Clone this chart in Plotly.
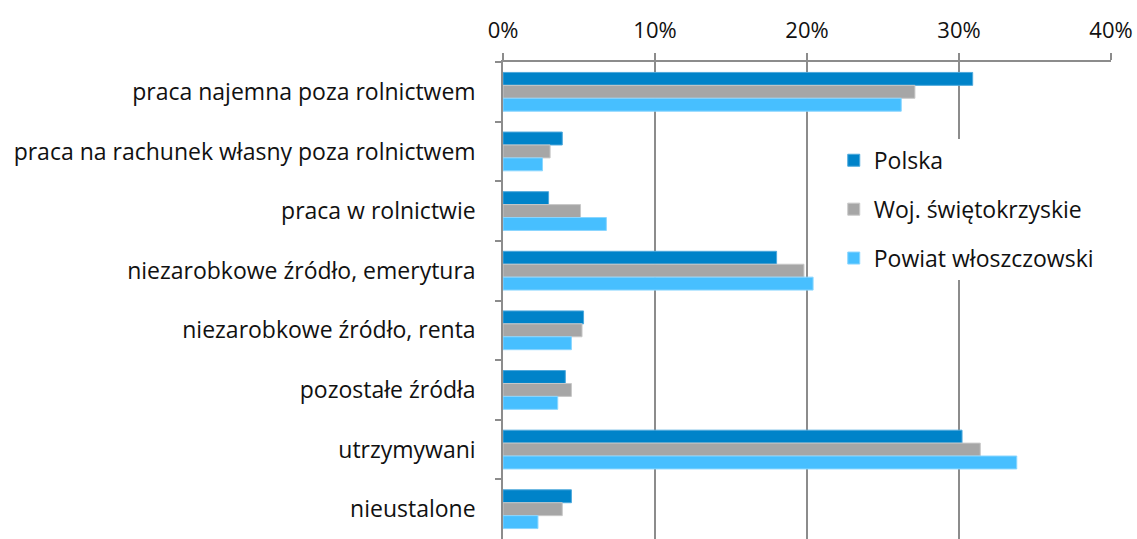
import plotly.graph_objects as go

categories = [
    "praca najemna poza rolnictwem",
    "praca na rachunek własny poza rolnictwem",
    "praca w rolnictwie",
    "niezarobkowe źródło, emerytura",
    "niezarobkowe źródło, renta",
    "pozostałe źródła",
    "utrzymywani",
    "nieustalone",
]
polska = [30.9, 3.9, 3.0, 18.0, 5.3, 4.1, 30.2, 4.5]
woj = [27.1, 3.1, 5.1, 19.8, 5.2, 4.5, 31.4, 3.9]
powiat = [26.2, 2.6, 6.8, 20.4, 4.5, 3.6, 33.8, 2.3]
series_names = ["Polska", "Woj. świętokrzyskie", "Powiat włoszczowski"]
colors = ["#0083C9", "#A6A6A6", "#47BFFF"]
edge = ["#4DA8DC", "#C8C8C8", "#8AD6FF"]

fig = go.Figure()
for name, vals, c, e in zip(series_names, [polska, woj, powiat], colors, edge):
    fig.add_trace(go.Bar(
        y=categories, x=[v / 100 for v in vals], name=name, orientation="h",
        marker=dict(color=c, line=dict(color=e, width=1)),
        legendgroup=name,
    ))

font = "Open Sans, Noto Sans, sans-serif"
fig.update_layout(
    width=1137, height=539,
    margin=dict(l=503, r=26, t=62, b=0),
    paper_bgcolor="white", plot_bgcolor="white",
    barmode="group", bargap=0.35, bargroupgap=0,
    font=dict(family=font, size=23, color="#111111"),
    legend=dict(x=0.544, y=0.839, xanchor="left", yanchor="top",
                bgcolor="white", font=dict(size=23),
                tracegroupgap=16, itemwidth=30),
    showlegend=True,
)
fig.update_xaxes(
    side="top", range=[0, 0.4], dtick=0.1, tickformat=".0%",
    tickfont=dict(size=22),
    showgrid=True, gridcolor="#8C8C8C", gridwidth=1.5,
    showline=True, linecolor="#8C8C8C", linewidth=1.5,
    ticks="outside", ticklen=7, tickcolor="#8C8C8C", tickwidth=1.5,
    zeroline=False, fixedrange=True, ticklabelstandoff=6,
)
fig.update_yaxes(
    autorange="reversed", tickson="boundaries",
    showline=True, linecolor="#8C8C8C", linewidth=1.5,
    ticks="outside", ticklen=6, tickcolor="#8C8C8C", tickwidth=1.5,
    showgrid=False, ticklabelstandoff=21, fixedrange=True,
)
fig.write_html(
    "out.html",
    config={"displayModeBar": False},
    post_script="document.body.style.margin='0';document.body.style.overflow='hidden';",
)
